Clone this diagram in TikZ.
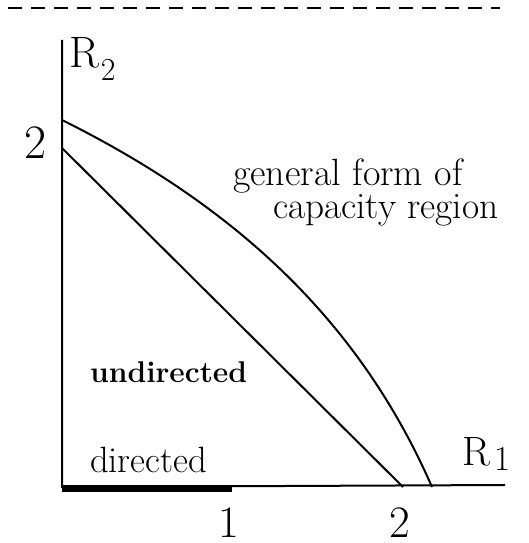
\documentclass[tikz,border=0pt]{standalone}
\usetikzlibrary{calc}

\tikzset{
	txt/.style={inner sep=0pt, anchor=base west, font=\fontsize{38}{40}\selectfont},
	num/.style={inner sep=0pt, anchor=base west, text depth=0pt, font=\fontsize{45}{48}\selectfont},
}

\begin{document}
\begin{tikzpicture}[x=1pt, y=-1pt, line width=2pt]
	\useasboundingbox (0,0) rectangle (529,543);
	% top rule
	\draw[dash pattern=on 14pt off 9pt] (8,8) -- (500,8);
	% axes
	\coordinate (O) at (62,487);
	\coordinate (ytop) at (62,40);
	\coordinate (xend) at (505,485);
	\draw (ytop) -- (O) -- (xend);
	\node[num, font=\fontsize{44}{46}\selectfont] (r2) at (68,67) {R\hspace{2pt}\raisebox{-13pt}{\fontsize{32}{34}\selectfont 2}};
	\node[num, font=\fontsize{41}{44}\selectfont] (r1) at (461,465) {R\hspace{5pt}\raisebox{-5pt}{\fontsize{35}{37}\selectfont 1}};
	% end points on the axes
	\coordinate (a2) at (62,120);
	\coordinate (b2) at (62,148);
	\coordinate (b1) at (403,487);
	\coordinate (a1) at (432,487);
	\coordinate (c1) at (232,488);
	\draw (a2) .. controls (243,210) and (362,327) .. (a1);
	\draw (b2) -- (b1);
	\draw[line width=7pt] (62,488) -- (c1);
	% tick labels
	\node[num, font=\fontsize{48}{50}\selectfont] (two) at (23,158) {2};
	\node[num] (one) at (217,537) {1};
	\node[num] (twox) at (388,537) {2};
	% region labels
	\node[txt] (gen) at (232,185) {general form of};
	\node[txt, font=\fontsize{37.3}{40}\selectfont] (cap) at (272,218) {capacity region};
	\node[txt, font=\fontsize{30}{32}\selectfont\bfseries] (und) at (89,382) {undirected};
	\node[txt, font=\fontsize{36.6}{38}\selectfont] (dir) at (89,472) {directed};
\end{tikzpicture}
\end{document}
